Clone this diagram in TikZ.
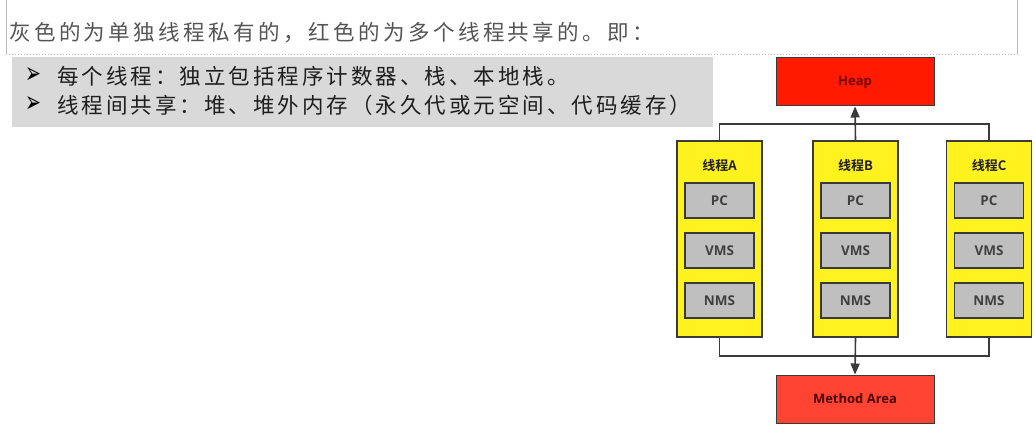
\documentclass[tikz,border=0pt]{standalone}
\usepackage{fontspec}
\usetikzlibrary{arrows.meta}
\setmainfont{Open Sans}
\newfontfamily\cjkhead[LetterSpace=16]{Noto Sans CJK SC}
\newfontfamily\cjkbody[LetterSpace=14]{Noto Sans CJK SC}
\newfontfamily\cjkbold[BoldFont={Noto Sans CJK SC Bold}]{Noto Sans CJK SC}
\newfontfamily\symb{DejaVu Sans}
\definecolor{linegray}{HTML}{3A3A3A}
\definecolor{boxgray}{HTML}{D9D9D9}
\definecolor{innergray}{HTML}{BFBFBF}
\definecolor{thyellow}{HTML}{FFF21F}
\definecolor{heapred}{HTML}{FF1A00}
\definecolor{methred}{HTML}{FF4433}
\definecolor{headtext}{HTML}{555555}
\definecolor{bodytext}{HTML}{1E1E1E}
\newcommand{\bulletsym}{\scalebox{0.95}[1.5]{\symb\fontsize{20}{22}\selectfont ➢}}
\tikzset{
  thread/.style={draw=linegray, line width=1.3pt, fill=thyellow, minimum width=85pt, minimum height=196pt, inner sep=0pt},
  inner/.style={draw=linegray, line width=1.3pt, fill=innergray, minimum width=69pt, minimum height=35pt, inner sep=0pt, font=\fontsize{13.5}{15}\selectfont\bfseries, text=bodytext!85},
  shared/.style={draw=linegray, line width=1pt, minimum width=158pt, minimum height=48pt, inner sep=0pt, font=\fontsize{13}{15}\selectfont\bfseries},
  tlabel/.style={inner sep=0pt, font=\cjkbold\fontsize{13}{15}\selectfont\bfseries, text=bodytext},
  conn/.style={draw=linegray, line width=1.6pt},
  tip/.style={-{Triangle[length=11pt,width=9pt]}}
}
\begin{document}
\begin{tikzpicture}[x=1pt,y=-1pt]
\useasboundingbox (0,0) rectangle (1035,425);
\fill[white] (0,0) rectangle (1035,425);
% header frame
\draw[gray!55, line width=1pt] (6,0) -- (6,55);
\draw[gray!55, line width=1pt] (1017,0) -- (1017,55);
\draw[gray!55, line width=1pt, dotted] (6,55) -- (1017,55);
\node[anchor=west, inner sep=0pt, text=headtext, font=\cjkhead\fontsize{21.5}{23}\selectfont] (head) at (9,33) {灰色的为单独线程私有的，红色的为多个线程共享的。即：};
% gray box
\node[fill=boxgray, minimum width=701pt, minimum height=70pt, inner sep=0pt, anchor=north west] (gbox) at (12,57) {};
\node[inner sep=0pt, text=black] (b1) at (33.5,76) {\bulletsym};
\node[inner sep=0pt, text=black] (b2) at (33.5,105) {\bulletsym};
\node[anchor=west, inner sep=0pt, text=bodytext, font=\cjkbody\fontsize{21.5}{23}\selectfont] (l1) at (57,76) {每个线程：独立包括程序计数器、栈、本地栈。};
\node[anchor=west, inner sep=0pt, text=bodytext, font=\cjkbody\fontsize{21.5}{23}\selectfont] (l2) at (57,105) {线程间共享：堆、堆外内存（永久代或元空间、代码缓存）};
% shared areas
\node[shared, fill=heapred, text=red!45!black] (heap) at (855,82) {Heap};
\node[shared, fill=methred, text=red!30!black] (meth) at (855,399) {Method Area};
% threads
\foreach \n/\x/\t in {A/719.5/线程A, B/855.5/线程B, C/989/线程C}{
  \node[thread] (t\n) at (\x,239) {};
  \node[tlabel] (lab\n) at (\x,166) {\t};
  \node[inner] (pc\n) at (\x,200.5) {PC};
  \node[inner] (vms\n) at (\x,250.5) {VMS};
  \node[inner] (nms\n) at (\x,300.5) {NMS};
}
% connectors
\coordinate (jt) at (855.5,124);
\coordinate (jb) at (855.5,356);
\draw[conn] (tA.north) |- (jt) -| (tC.north);
\draw[conn, tip] (tB.north) -- (heap.south);
\draw[conn] (tA.south) |- (jb) -| (tC.south);
\draw[conn, tip] (tB.south) -- (meth.north);
\end{tikzpicture}
\end{document}
